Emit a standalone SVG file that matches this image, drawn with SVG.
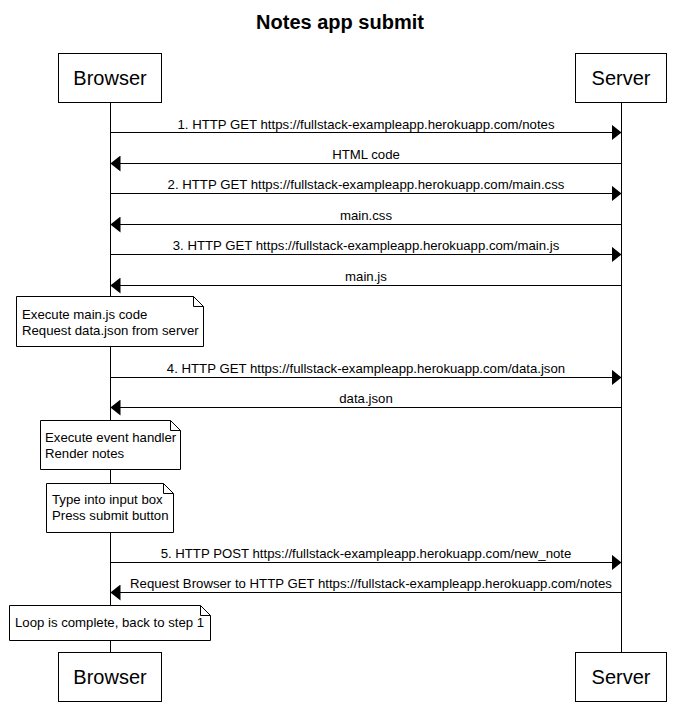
<svg xmlns="http://www.w3.org/2000/svg" width="679" height="704" viewBox="0 0 679 704">
<style>
text{font-family:"Liberation Sans",Arial,sans-serif;fill:#000}
.title{font-size:20px;font-weight:bold;text-anchor:middle}
.actor rect{fill:#fff;stroke:#000;stroke-width:1}
.actor text{font-size:20px;text-anchor:middle}
.life{stroke:#000;stroke-width:1}
.msg line{stroke:#000;stroke-width:1}
.msg text{font-size:13.2px;text-anchor:middle}
.note path{fill:#fff;stroke:#000;stroke-width:1}
.note text{font-size:13.2px}
</style>
<defs>
<marker id="ah" viewBox="0 0 10 16" refX="10" refY="8" markerWidth="10" markerHeight="16" markerUnits="userSpaceOnUse" orient="auto">
<path d="M0,0 L10,8 L0,16 z" fill="#000"/>
</marker>
</defs>
<rect width="679" height="704" fill="#fff"/>
<text class="title" x="340" y="29">Notes app submit</text>
<g id="lifelines">
<line class="life" x1="110.5" y1="102" x2="110.5" y2="652"/>
<line class="life" x1="621.5" y1="102" x2="621.5" y2="652"/>
</g>
<g id="browser-top" class="actor"><rect x="58.5" y="53.5" width="103" height="49"/><text x="110" y="85">Browser</text></g>
<g id="server-top" class="actor"><rect x="575.5" y="53.5" width="91" height="49"/><text x="621" y="85">Server</text></g>
<g id="browser-bottom" class="actor"><rect x="58.5" y="652.5" width="103" height="49"/><text x="110" y="684">Browser</text></g>
<g id="server-bottom" class="actor"><rect x="575.5" y="652.5" width="91" height="49"/><text x="621" y="684">Server</text></g>
<g id="connectors" class="msg">
<line x1="110.5" y1="132.5" x2="621.5" y2="132.5" marker-end="url(#ah)"/>
<text x="366" y="129">1. HTTP GET https://fullstack-exampleapp.herokuapp.com/notes</text>
<line x1="621.5" y1="163.5" x2="110.5" y2="163.5" marker-end="url(#ah)"/>
<text x="366" y="159">HTML code</text>
<line x1="110.5" y1="193.5" x2="621.5" y2="193.5" marker-end="url(#ah)"/>
<text x="366" y="189">2. HTTP GET https://fullstack-exampleapp.herokuapp.com/main.css</text>
<line x1="621.5" y1="224.5" x2="110.5" y2="224.5" marker-end="url(#ah)"/>
<text x="366" y="220">main.css</text>
<line x1="110.5" y1="254.5" x2="621.5" y2="254.5" marker-end="url(#ah)"/>
<text x="366" y="250">3. HTTP GET https://fullstack-exampleapp.herokuapp.com/main.js</text>
<line x1="621.5" y1="285.5" x2="110.5" y2="285.5" marker-end="url(#ah)"/>
<text x="366" y="281">main.js</text>
<line x1="110.5" y1="377.5" x2="621.5" y2="377.5" marker-end="url(#ah)"/>
<text x="366" y="373">4. HTTP GET https://fullstack-exampleapp.herokuapp.com/data.json</text>
<line x1="621.5" y1="407.5" x2="110.5" y2="407.5" marker-end="url(#ah)"/>
<text x="366" y="403">data.json</text>
<line x1="110.5" y1="562.5" x2="621.5" y2="562.5" marker-end="url(#ah)"/>
<text x="366" y="558">5. HTTP POST https://fullstack-exampleapp.herokuapp.com/new_note</text>
<line x1="621.5" y1="592.5" x2="110.5" y2="592.5" marker-end="url(#ah)"/>
<text x="371" y="588">Request Browser to HTTP GET https://fullstack-exampleapp.herokuapp.com/notes</text>
</g>
<g id="note1" class="note">
<path d="M16.5,296.5 H193.5 L203.5,306.5 V346.5 H16.5 Z M193.5,296.5 V306.5 H203.5"/>
<text x="22" y="319">Execute main.js code</text>
<text x="22" y="335">Request data.json from server</text>
</g>
<g id="note2" class="note">
<path d="M40.5,420.5 H170.5 L180.5,430.5 V469.5 H40.5 Z M170.5,420.5 V430.5 H180.5"/>
<text x="45" y="442">Execute event handler</text>
<text x="45" y="458">Render notes</text>
</g>
<g id="note3" class="note">
<path d="M46.5,483.5 H163.5 L173.5,493.5 V532.5 H46.5 Z M163.5,483.5 V493.5 H173.5"/>
<text x="52" y="504">Type into input box</text>
<text x="52" y="520">Press submit button</text>
</g>
<g id="note4" class="note">
<path d="M9.5,605.5 H200.5 L210.5,615.5 V640.5 H9.5 Z M200.5,605.5 V615.5 H210.5"/>
<text x="15" y="627">Loop is complete, back to step 1</text>
</g>
</svg>
